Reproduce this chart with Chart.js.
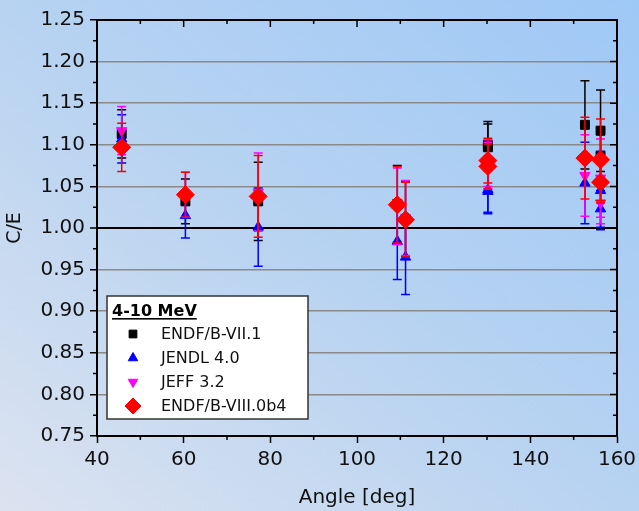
<!DOCTYPE html>
<html>
<head>
<meta charset="utf-8">
<script src="https://cdn.jsdelivr.net/npm/chart.js@4.4.0/dist/chart.umd.min.js"></script>
<style>
  html, body { margin: 0; padding: 0; }
  body {
    width: 639px; height: 511px; overflow: hidden;
    background: linear-gradient(to top right, #dce3f0 0%, #bad4f1 45%, #9ec8f6 100%);
  }
</style>
</head>
<body>
<canvas id="c" width="639" height="511"></canvas>
<script>
// scattering angle of each measurement
const angles = [45.7, 60.4, 77.2, 109.3, 111.2, 130.2, 130.2, 152.6, 156.2, 156.2];

// C/E values per library
const endf71 = [1.113, 1.032, 1.032, 1.029, 1.011, 1.100, 1.097, 1.124, 1.117, 1.087];
const jendl40 = [1.107, 1.015, 1.001, 0.984, 0.965, 1.044, 1.046, 1.054, 1.045, 1.023];
const jeff32 = [1.117, 1.040, 1.043, 1.026, 1.012, 1.078, 1.075, 1.063, 1.060, 1.030];
const endf80 = [1.097, 1.040, 1.038, 1.028, 1.010, 1.081, 1.074, 1.084, 1.082, 1.055];

// error bar half widths
const endf71Err = [0.029, 0.027, 0.047, 0.046, 0.045, 0.028, 0.028, 0.053, 0.049, 0.025];
const jendl40Err = [0.029, 0.027, 0.047, 0.046, 0.045, 0.027, 0.027, 0.049, 0.047, 0.022];
const jeff32Err = [0.029, 0.027, 0.047, 0.046, 0.045, 0.028, 0.028, 0.049, 0.047, 0.025];
const endf80Err = [0.029, 0.027, 0.049, 0.046, 0.045, 0.027, 0.027, 0.049, 0.049, 0.025];

const xTicks = [40, 60, 80, 100, 120, 140, 160];
const yTicks = [0.75, 0.80, 0.85, 0.90, 0.95, 1.00, 1.05, 1.10, 1.15, 1.20, 1.25];
const legendTitle = '4-10 MeV';

const FONT = '"DejaVu Sans", "Liberation Sans", Arial, sans-serif';

function pts(vals) {
  return angles.map((a, i) => ({ x: a, y: vals[i] }));
}

function series(label, vals, errs, color, style, radius, rotation, order) {
  return {
    label: label,
    data: pts(vals),
    errors: errs,
    order: order,
    backgroundColor: color,
    borderColor: color,
    pointStyle: style,
    pointRadius: radius,
    pointHoverRadius: radius,
    pointRotation: rotation || 0,
    pointBorderWidth: 1,
    showLine: false
  };
}

// higher order is drawn first, so red ends up on top
const datasets = [
  series('ENDF/B-VII.1', endf71, endf71Err, '#000000', 'rect', 6.3, 0, 4),
  series('JENDL 4.0', jendl40, jendl40Err, '#0000ff', 'triangle', 6, 0, 3),
  series('JEFF 3.2', jeff32, jeff32Err, '#ff00ff', 'triangle', 6, 180, 2),
  series('ENDF/B-VIII.0b4', endf80, endf80Err, '#ff0000', 'rectRot', 9, 0, 1)
];

// error bars drawn just before each dataset's markers
const errorBars = {
  id: 'errorBars',
  beforeDatasetDraw(chart, args) {
    const ds = chart.data.datasets[args.index];
    const xs = chart.scales.x, ys = chart.scales.y;
    const ctx = chart.ctx;
    ctx.save();
    ctx.strokeStyle = ds.borderColor;
    ctx.lineWidth = 1.5;
    ds.data.forEach((p, i) => {
      const e = ds.errors[i];
      const px = xs.getPixelForValue(p.x);
      const top = ys.getPixelForValue(p.y + e);
      const bot = ys.getPixelForValue(p.y - e);
      ctx.beginPath();
      ctx.moveTo(px, top); ctx.lineTo(px, bot);
      ctx.moveTo(px - 4.5, top); ctx.lineTo(px + 4.5, top);
      ctx.moveTo(px - 4.5, bot); ctx.lineTo(px + 4.5, bot);
      ctx.stroke();
    });
    ctx.restore();
  }
};

// frame: top/right border, minor ticks, inner ticks
const frame = {
  id: 'frame',
  afterDatasetsDraw(chart) {
    const { ctx, chartArea: a } = chart;
    const xs = chart.scales.x, ys = chart.scales.y;
    ctx.save();
    ctx.strokeStyle = '#000';
    ctx.lineWidth = 1.5;
    ctx.beginPath();
    for (let v = 50; v < 160; v += 20) {
      const px = xs.getPixelForValue(v);
      ctx.moveTo(px, a.bottom); ctx.lineTo(px, a.bottom + 4);
      ctx.moveTo(px, a.top); ctx.lineTo(px, a.top + 4);
    }
    xTicks.forEach(v => {
      const px = xs.getPixelForValue(v);
      ctx.moveTo(px, a.top); ctx.lineTo(px, a.top + 7);
    });
    for (let v = 0.775; v < 1.25; v += 0.05) {
      const py = ys.getPixelForValue(v);
      ctx.moveTo(a.left, py); ctx.lineTo(a.left - 4, py);
      ctx.moveTo(a.right, py); ctx.lineTo(a.right - 4, py);
    }
    yTicks.forEach(v => {
      const py = ys.getPixelForValue(v);
      ctx.moveTo(a.right, py); ctx.lineTo(a.right - 7, py);
    });
    ctx.stroke();
    ctx.lineWidth = 2;
    ctx.beginPath();
    ctx.moveTo(a.left, a.top); ctx.lineTo(a.right, a.top); ctx.lineTo(a.right, a.bottom);
    ctx.stroke();
    ctx.restore();
  }
};

// boxed legend inside the plot
const boxLegend = {
  id: 'boxLegend',
  afterDraw(chart) {
    const ctx = chart.ctx;
    const bx = 107, by = 296, bw = 201, bh = 123;
    ctx.save();
    ctx.fillStyle = '#ffffff';
    ctx.fillRect(bx, by, bw, bh);
    ctx.strokeStyle = '#333';
    ctx.lineWidth = 1.5;
    ctx.strokeRect(bx, by, bw, bh);

    ctx.fillStyle = '#000';
    ctx.font = 'bold 16px ' + FONT;
    ctx.textBaseline = 'alphabetic';
    ctx.fillText(legendTitle, 112, 316);
    const tw = ctx.measureText(legendTitle).width;
    ctx.fillRect(112, 318, tw, 1.6);

    ctx.font = '16px ' + FONT;
    ctx.textBaseline = 'middle';
    const rows = [334, 358, 382, 406];
    chart.data.datasets.forEach((ds, i) => {
      const y = rows[i];
      ctx.fillStyle = ds.backgroundColor;
      ctx.strokeStyle = ds.borderColor;
      ctx.lineWidth = 1;
      const r = ds.pointStyle === 'rectRot' ? 8 : 5.5;
      Chart.helpers.drawPoint(ctx, { pointStyle: ds.pointStyle, rotation: ds.pointRotation, radius: r, borderWidth: 1 }, 133, y);
      ctx.fillStyle = '#111';
      ctx.fillText(ds.label, 161, y + 1);
    });
    ctx.restore();
  }
};

new Chart(document.getElementById('c'), {
  type: 'scatter',
  data: { datasets: datasets },
  options: {
    responsive: false,
    animation: false,
    layout: { padding: { top: 20, right: 22, left: 0, bottom: 0 } },
    plugins: { legend: { display: false }, tooltip: { enabled: false } },
    scales: {
      x: {
        type: 'linear',
        min: 40, max: 160,
        afterFit(s) { s.height = 75; s.paddingLeft = 0; s.paddingRight = 0; },
        afterBuildTicks(s) { s.ticks = xTicks.map(v => ({ value: v })); },
        ticks: { color: '#111', font: { family: FONT, size: 20 }, padding: 5 },
        grid: { drawOnChartArea: false, drawTicks: true, tickLength: 7, tickColor: '#000', tickWidth: 1.5 },
        border: { display: true, color: '#000', width: 2 },
        title: { display: true, text: 'Angle [deg]', color: '#111', font: { family: FONT, size: 20 }, padding: { top: 0, bottom: 1 } }
      },
      y: {
        type: 'linear',
        min: 0.75, max: 1.25,
        afterFit(s) { s.width = 97; s.paddingTop = 0; s.paddingBottom = 0; },
        afterBuildTicks(s) { s.ticks = yTicks.map(v => ({ value: v })); },
        ticks: { color: '#111', font: { family: FONT, size: 20 }, padding: 5, callback: v => v.toFixed(2) },
        grid: {
          drawOnChartArea: true,
          color: c => (c.tick && Math.abs(c.tick.value - 1) < 1e-6) ? '#000' : '#8a8a8a',
          lineWidth: c => (c.tick && Math.abs(c.tick.value - 1) < 1e-6) ? 2 : 1.5,
          tickLength: 7, tickColor: '#000', tickWidth: 1.5
        },
        border: { display: true, color: '#000', width: 2 },
        title: { display: true, text: 'C/E', color: '#111', font: { family: FONT, size: 19 }, padding: { top: 4, bottom: 0 } }
      }
    }
  },
  plugins: [errorBars, frame, boxLegend]
});
</script>
</body>
</html>
